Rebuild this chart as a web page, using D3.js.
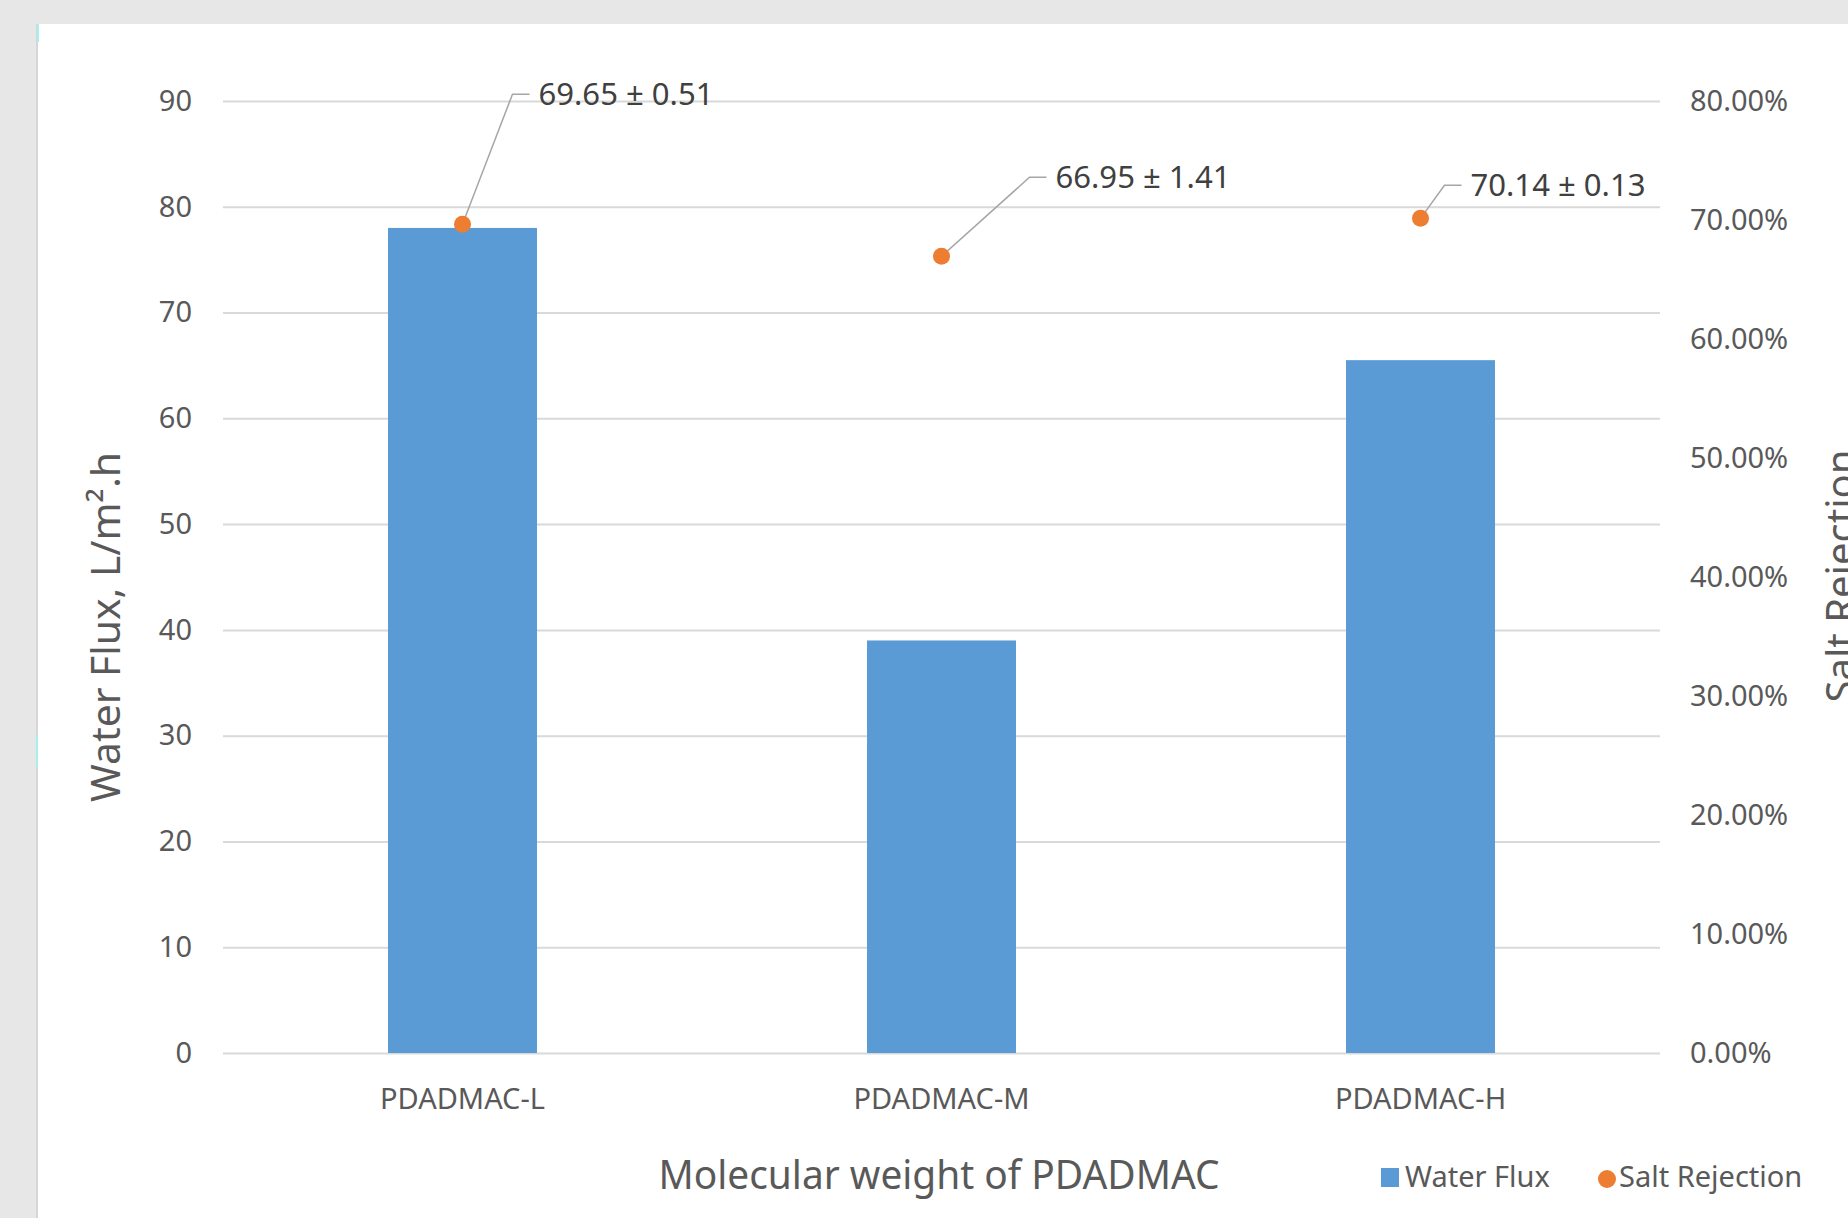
<!DOCTYPE html>
<html lang="en">
<head>
    <meta charset="UTF-8">
    <title>Water Flux and Salt Rejection vs PDADMAC molecular weight</title>
    <script src="https://d3js.org/d3.v7.min.js"></script>
    <style>
        body{
            margin: 0;
            background: #e7e7e7;
        }
        svg text{
            font-family: "Noto Sans", "Open Sans", sans-serif;
        }
        .tick line{
            stroke: #d9d9d9;
            stroke-width: 2;
        }
    </style>
</head>
<body>
<script>

    // chart values
    const categories = ["PDADMAC-L", "PDADMAC-M", "PDADMAC-H"]
    const waterFlux = [78.0, 39.0, 65.5]
    const saltRejection = [0.6965, 0.6695, 0.7014]
    const rejectionError = [0.0051, 0.0141, 0.0013]
    const leftTicks = [0, 10, 20, 30, 40, 50, 60, 70, 80, 90]
    const rightTicks = [0, 0.1, 0.2, 0.3, 0.4, 0.5, 0.6, 0.7, 0.8]
    const legendNames = ["Water Flux", "Salt Rejection"]

    // where the data-label boxes sit relative to their point (dx, dy)
    const leaderOffsets = [[67, -130], [105, -79], [41, -33]]

    const size = {width: 1848, height: 1218}
    const plot = {left: 223, right: 1660, top: 101, bottom: 1053}
    const barColor = "#5b9bd5"
    const dotColor = "#ed7d31"

    const svg = d3.select("body")
        .append("svg")
        .attr("width", size.width)
        .attr("height", size.height)
        .attr("viewBox", [0, 0, size.width, size.height])

    // grey window + white chart area
    svg.append("rect").attr("width", size.width).attr("height", size.height).attr("fill", "#e7e7e7")
    svg.append("rect")
        .attr("x", 38).attr("y", 24)
        .attr("width", size.width - 38).attr("height", size.height - 24)
        .attr("fill", "#ffffff")
    svg.append("line")
        .attr("x1", 37).attr("x2", 37).attr("y1", 24).attr("y2", size.height)
        .attr("stroke", "#d6d6d6").attr("stroke-width", 2)
    svg.append("line")
        .attr("x1", 38).attr("x2", 38).attr("y1", 24).attr("y2", 42)
        .attr("stroke", "#a8f0f0").attr("stroke-width", 2)
    svg.append("line")
        .attr("x1", 37).attr("x2", 37).attr("y1", 735).attr("y2", 767)
        .attr("stroke", "#a8f0f0").attr("stroke-width", 2)

    const x = d3.scaleBand()
        .domain(categories)
        .range([plot.left, plot.right])
        .paddingInner(0.689)
        .paddingOuter(0.3445)
    const yLeft = d3.scaleLinear().domain([0, 90]).range([plot.bottom, plot.top])
    const yRight = d3.scaleLinear().domain([0, 0.8]).range([plot.bottom, plot.top])

    // left axis with gridlines
    const leftAxis = svg.append("g")
        .attr("transform", `translate(${plot.left},0)`)
        .call(d3.axisLeft(yLeft).tickValues(leftTicks)
            .tickSize(-(plot.right - plot.left)).tickPadding(31))
    leftAxis.select(".domain").remove()
    leftAxis.selectAll("text")
        .attr("fill", "#595959")
        .style("font-size", "29px")

    // right axis, labels only
    const rightAxis = svg.append("g")
        .attr("transform", `translate(${plot.right},0)`)
        .call(d3.axisRight(yRight).tickValues(rightTicks)
            .tickSize(0).tickPadding(30).tickFormat(d3.format(".2%")))
    rightAxis.select(".domain").remove()
    rightAxis.selectAll("text")
        .attr("fill", "#595959")
        .style("font-size", "29px")

    // category labels
    const bottomAxis = svg.append("g")
        .attr("transform", `translate(0,${plot.bottom})`)
        .call(d3.axisBottom(x).tickSize(0).tickPadding(35))
    bottomAxis.select(".domain").remove()
    bottomAxis.selectAll("text")
        .attr("fill", "#595959")
        .style("font-size", "29px")

    // bars
    svg.append("g")
        .selectAll("rect")
        .data(categories)
        .join("rect")
        .attr("x", d => x(d))
        .attr("width", x.bandwidth())
        .attr("y", (d, i) => yLeft(waterFlux[i]))
        .attr("height", (d, i) => yLeft(0) - yLeft(waterFlux[i]))
        .attr("fill", barColor)

    // leader lines + data labels
    const labels = svg.append("g")
    categories.forEach((c, i) => {
        const px = x(c) + x.bandwidth() / 2
        const py = yRight(saltRejection[i])
        const ax = px + leaderOffsets[i][0]
        const ay = py + leaderOffsets[i][1]
        labels.append("path")
            .attr("d", d3.line()([[px, py], [ax - 17, ay], [ax, ay]]))
            .attr("fill", "none")
            .attr("stroke", "#a6a6a6")
            .attr("stroke-width", 1.5)
        labels.append("text")
            .attr("x", ax + 9)
            .attr("y", ay)
            .attr("dy", "0.35em")
            .attr("fill", "#404040")
            .attr("textLength", 175)
            .attr("lengthAdjust", "spacingAndGlyphs")
            .style("font-size", "30px")
            .text((saltRejection[i] * 100).toFixed(2) + " \u00B1 " + (rejectionError[i] * 100).toFixed(2))
    })

    // salt rejection points
    svg.append("g")
        .selectAll("circle")
        .data(categories)
        .join("circle")
        .attr("cx", d => x(d) + x.bandwidth() / 2)
        .attr("cy", (d, i) => yRight(saltRejection[i]))
        .attr("r", 8.5)
        .attr("fill", dotColor)

    // axis titles
    svg.append("text")
        .attr("transform", "translate(120,627) rotate(-90)")
        .attr("text-anchor", "middle")
        .attr("fill", "#595959")
        .attr("textLength", 350)
        .attr("lengthAdjust", "spacingAndGlyphs")
        .style("font-size", "40px")
        .text("Water Flux, L/m\u00B2.h")
    svg.append("text")
        .attr("transform", "translate(1855,576) rotate(-90)")
        .attr("text-anchor", "middle")
        .attr("fill", "#595959")
        .style("font-size", "40px")
        .text("Salt Rejection")
    svg.append("text")
        .attr("x", 939)
        .attr("y", 1189)
        .attr("text-anchor", "middle")
        .attr("fill", "#595959")
        .attr("textLength", 561)
        .attr("lengthAdjust", "spacingAndGlyphs")
        .style("font-size", "40px")
        .text("Molecular weight of PDADMAC")

    // legend
    const legend = svg.append("g")
    legend.append("rect")
        .attr("x", 1381).attr("y", 1168)
        .attr("width", 18).attr("height", 19)
        .attr("fill", barColor)
    legend.append("text")
        .attr("x", 1405).attr("y", 1187)
        .attr("fill", "#595959")
        .style("font-size", "29px")
        .text(legendNames[0])
    legend.append("circle")
        .attr("cx", 1607).attr("cy", 1179).attr("r", 9)
        .attr("fill", dotColor)
    legend.append("text")
        .attr("x", 1619).attr("y", 1187)
        .attr("fill", "#595959")
        .style("font-size", "29px")
        .text(legendNames[1])

</script>
</body>
</html>
